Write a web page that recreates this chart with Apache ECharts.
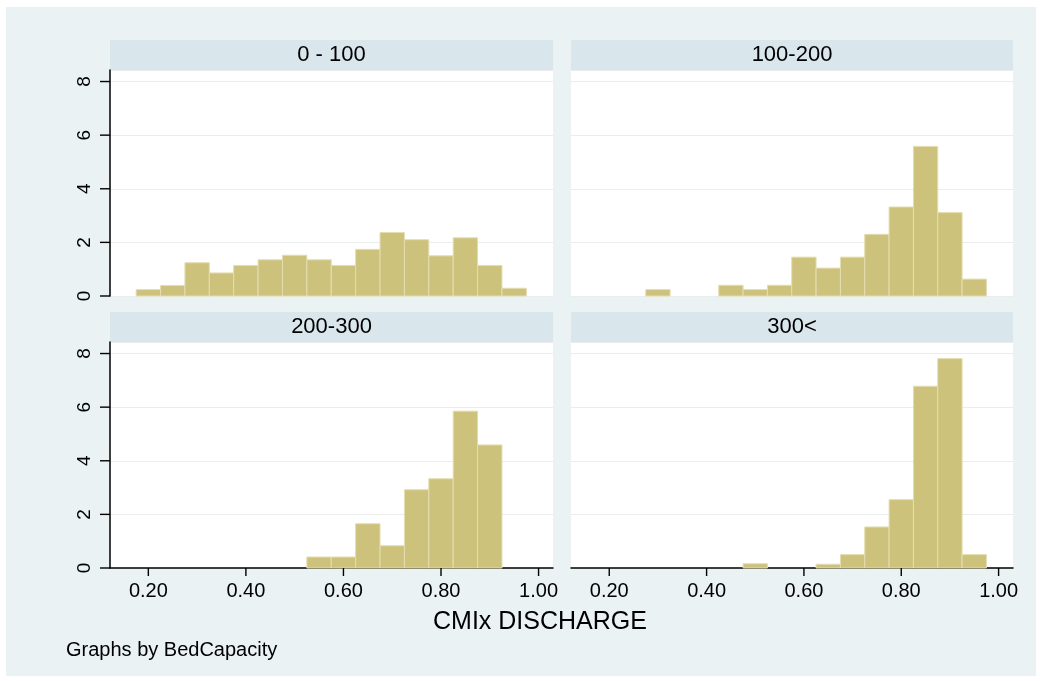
<!DOCTYPE html>
<html>
<head>
<meta charset="utf-8">
<script src="https://cdn.jsdelivr.net/npm/echarts@6/dist/echarts.min.js"></script>
<style>
  html, body { margin: 0; padding: 0; background: #fff; }
  #wrap { position: relative; width: 1042px; height: 681px; }
  #bg { position: absolute; left: 6px; top: 7px; width: 1030px; height: 669px; background: #eaf2f4; }
  #chart { position: absolute; left: 0; top: 0; width: 1042px; height: 681px; }
</style>
</head>
<body>
<div id="wrap"><div id="bg"></div><div id="chart"></div></div>
<script>
// bin centres (width 0.05) and density heights per bed-capacity group
const binCenters = [0.20, 0.25, 0.30, 0.35, 0.40, 0.45, 0.50, 0.55, 0.60, 0.65, 0.70, 0.75, 0.80, 0.85, 0.90, 0.95]
const binWidth = 0.05
const panelNames = ['0 - 100', '100-200', '200-300', '300<']
const dens0to100 = [0.24, 0.39, 1.24, 0.86, 1.14, 1.35, 1.52, 1.35, 1.14, 1.74, 2.37, 2.10, 1.50, 2.17, 1.14, 0.29]
const dens100to200 = [0, 0, 0.24, 0, 0, 0.40, 0.24, 0.40, 1.45, 1.04, 1.45, 2.30, 3.32, 5.58, 3.11, 0.63]
const dens200to300 = [0, 0, 0, 0, 0, 0, 0, 0.41, 0.41, 1.65, 0.83, 2.92, 3.33, 5.85, 4.59, 0]
const dens300plus = [0, 0, 0, 0, 0, 0, 0.16, 0, 0, 0.14, 0.50, 1.53, 2.55, 6.78, 7.81, 0.50]
const xTicks = [0.2, 0.4, 0.6, 0.8, 1.0]
const yTicks = [0, 2, 4, 6, 8]
const xTitle = 'CMIx DISCHARGE'
const note = 'Graphs by BedCapacity'

const X_MIN = 0.1214
const X_MAX = 1.0296
const Y_MAX = 8.43

const FONT = '"Liberation Sans", Arial, sans-serif'
const BAR_FILL = '#cdc27c'
const BAR_LINE = '#e4ddb0'

const panels = [dens0to100, dens100to200, dens200to300, dens300plus]
// plot areas in px: [left, top, width, height]
const boxes = [
  [110, 70, 443, 226],
  [571, 70, 442, 226],
  [110, 342, 443, 226],
  [571, 342, 442, 226]
]

const myChart = echarts.init(document.getElementById('chart'), null, { renderer: 'canvas' })

const grid = boxes.map(b => ({
  left: b[0],
  top: b[1],
  width: b[2],
  height: b[3],
  show: true,
  backgroundColor: '#ffffff',
  borderWidth: 0
}))

const xAxis = boxes.map((b, i) => {
  const bottomRow = i >= 2
  return {
    type: 'value',
    gridIndex: i,
    min: X_MIN,
    max: X_MAX,
    splitLine: { show: false },
    axisLine: { show: bottomRow, onZero: false, lineStyle: { color: '#000', width: 1.5 } },
    axisTick: { show: false },
    axisLabel: {
      show: bottomRow,
      customValues: xTicks,
      formatter: v => v.toFixed(2),
      color: '#000',
      fontFamily: FONT,
      fontSize: 20,
      margin: 13
    }
  }
})

const yAxis = boxes.map((b, i) => {
  const leftCol = i % 2 === 0
  return {
    type: 'value',
    gridIndex: i,
    min: 0,
    max: Y_MAX,
    interval: 2,
    splitLine: { show: true, lineStyle: { color: '#eaeced', width: 1.2 } },
    axisLine: { show: leftCol, lineStyle: { color: '#000', width: 1.5 } },
    axisTick: { show: false },
    axisLabel: {
      show: leftCol,
      customValues: yTicks,
      rotate: 90,
      color: '#000',
      fontFamily: FONT,
      fontSize: 19,
      margin: 16
    }
  }
})

const series = panels.map((dens, i) => ({
  type: 'custom',
  xAxisIndex: i,
  yAxisIndex: i,
  data: binCenters.map((c, k) => [c, dens[k]]).filter(d => d[1] > 0),
  renderItem: (params, api) => {
    const c = api.value(0)
    const h = api.value(1)
    const p0 = api.coord([c - binWidth / 2, h])
    const p1 = api.coord([c + binWidth / 2, 0])
    return {
      type: 'rect',
      shape: { x: p0[0], y: p0[1], width: p1[0] - p0[0], height: p1[1] - p0[1] },
      style: { fill: BAR_FILL, stroke: BAR_LINE, lineWidth: 1 }
    }
  },
  silent: true
}))

// thin strips beside the plot areas that carry the tick marks, on the same scales
const hidden = { axisLine: { show: false }, axisTick: { show: false }, axisLabel: { show: false }, splitLine: { show: false } }
function tickLine(api) {
  const a = api.coord([api.value(0), api.value(1)])
  const b = api.coord([api.value(2), api.value(3)])
  return {
    type: 'line',
    shape: { x1: a[0], y1: a[1], x2: b[0], y2: b[1] },
    style: { stroke: '#000', lineWidth: 1.4 }
  }
}
boxes.forEach((b, i) => {
  if (i >= 2) {
    const g = grid.length
    grid.push({ left: b[0], top: b[1] + b[3], width: b[2], height: 8 })
    xAxis.push({ type: 'value', gridIndex: g, min: X_MIN, max: X_MAX, ...hidden })
    yAxis.push({ type: 'value', gridIndex: g, min: 0, max: 1, ...hidden })
    series.push({
      type: 'custom', xAxisIndex: xAxis.length - 1, yAxisIndex: yAxis.length - 1, silent: true,
      data: xTicks.map(v => [v, 1, v, 0]),
      renderItem: (params, api) => tickLine(api)
    })
  }
  if (i % 2 === 0) {
    const g = grid.length
    grid.push({ left: b[0] - 10, top: b[1], width: 10, height: b[3] })
    xAxis.push({ type: 'value', gridIndex: g, min: 0, max: 1, ...hidden })
    yAxis.push({ type: 'value', gridIndex: g, min: 0, max: Y_MAX, ...hidden })
    series.push({
      type: 'custom', xAxisIndex: xAxis.length - 1, yAxisIndex: yAxis.length - 1, silent: true,
      data: yTicks.map(v => [0, v, 1, v]),
      renderItem: (params, api) => tickLine(api)
    })
  }
})

// strip headers and texts
const graphic = []
boxes.forEach((b, i) => {
  const rowTop = i < 2 ? 40 : 312
  graphic.push({
    type: 'rect',
    z: -5,
    shape: { x: b[0], y: rowTop, width: b[2], height: b[1] - rowTop },
    style: { fill: '#d9e6eb' }
  })
  graphic.push({
    type: 'text',
    x: b[0] + b[2] / 2,
    y: rowTop + (b[1] - rowTop) / 2,
    style: {
      text: panelNames[i],
      fill: '#000',
      font: '22px ' + FONT,
      align: 'center',
      verticalAlign: 'middle'
    }
  })
})
graphic.push({
  type: 'text',
  x: 540,
  y: 622,
  style: { text: xTitle, fill: '#000', font: '25px ' + FONT, align: 'center', verticalAlign: 'middle' }
})
graphic.push({
  type: 'text',
  x: 66,
  y: 650,
  style: { text: note, fill: '#000', font: '20px ' + FONT, align: 'left', verticalAlign: 'middle' }
})

myChart.setOption({
  animation: false,
  backgroundColor: 'transparent',
  grid,
  xAxis,
  yAxis,
  series,
  graphic
})
</script>
</body>
</html>
